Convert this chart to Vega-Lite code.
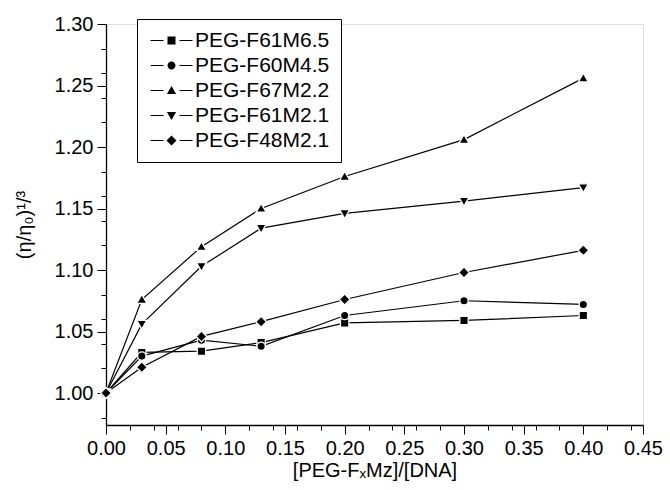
{
  "$schema": "https://vega.github.io/schema/vega-lite/v6.json",
  "width": 537,
  "height": 401,
  "autosize": "none",
  "padding": {"left": 106, "top": 24, "right": 27, "bottom": 65},
  "background": "white",
  "config": {
    "font": "Liberation Sans",
    "axis": {
      "labelFont": "Liberation Sans",
      "titleFont": "Liberation Sans",
      "labelFontSize": 20,
      "titleFontSize": 20,
      "titleFontWeight": "normal",
      "labelColor": "black",
      "titleColor": "black"
    }
  },
  "data": {
    "values": [
      {"series": "PEG-F61M6.5", "x": 0.0, "y": 1.000},
      {"series": "PEG-F61M6.5", "x": 0.03, "y": 1.033},
      {"series": "PEG-F61M6.5", "x": 0.08, "y": 1.034},
      {"series": "PEG-F61M6.5", "x": 0.13, "y": 1.041},
      {"series": "PEG-F61M6.5", "x": 0.2, "y": 1.057},
      {"series": "PEG-F61M6.5", "x": 0.3, "y": 1.059},
      {"series": "PEG-F61M6.5", "x": 0.4, "y": 1.063},
      {"series": "PEG-F60M4.5", "x": 0.0, "y": 1.000},
      {"series": "PEG-F60M4.5", "x": 0.03, "y": 1.030},
      {"series": "PEG-F60M4.5", "x": 0.08, "y": 1.043},
      {"series": "PEG-F60M4.5", "x": 0.13, "y": 1.038},
      {"series": "PEG-F60M4.5", "x": 0.2, "y": 1.063},
      {"series": "PEG-F60M4.5", "x": 0.3, "y": 1.075},
      {"series": "PEG-F60M4.5", "x": 0.4, "y": 1.072},
      {"series": "PEG-F67M2.2", "x": 0.0, "y": 1.000},
      {"series": "PEG-F67M2.2", "x": 0.03, "y": 1.076},
      {"series": "PEG-F67M2.2", "x": 0.08, "y": 1.119},
      {"series": "PEG-F67M2.2", "x": 0.13, "y": 1.150},
      {"series": "PEG-F67M2.2", "x": 0.2, "y": 1.176},
      {"series": "PEG-F67M2.2", "x": 0.3, "y": 1.206},
      {"series": "PEG-F67M2.2", "x": 0.4, "y": 1.256},
      {"series": "PEG-F61M2.1", "x": 0.0, "y": 1.000},
      {"series": "PEG-F61M2.1", "x": 0.03, "y": 1.056},
      {"series": "PEG-F61M2.1", "x": 0.08, "y": 1.103},
      {"series": "PEG-F61M2.1", "x": 0.13, "y": 1.134},
      {"series": "PEG-F61M2.1", "x": 0.2, "y": 1.146},
      {"series": "PEG-F61M2.1", "x": 0.3, "y": 1.156},
      {"series": "PEG-F61M2.1", "x": 0.4, "y": 1.167},
      {"series": "PEG-F48M2.1", "x": 0.0, "y": 1.000},
      {"series": "PEG-F48M2.1", "x": 0.03, "y": 1.021},
      {"series": "PEG-F48M2.1", "x": 0.08, "y": 1.046},
      {"series": "PEG-F48M2.1", "x": 0.13, "y": 1.058},
      {"series": "PEG-F48M2.1", "x": 0.2, "y": 1.076},
      {"series": "PEG-F48M2.1", "x": 0.3, "y": 1.098},
      {"series": "PEG-F48M2.1", "x": 0.4, "y": 1.116}
    ]
  },
  "encoding": {
    "x": {
      "field": "x",
      "type": "quantitative",
      "scale": {"domain": [0, 0.45], "nice": false, "zero": false},
      "axis": {
        "orient": "bottom",
        "title": "[PEG-FₓMz]/[DNA]",
        "tickCount": 10,
        "format": ".2f",
        "labelFlush": false,
        "gridOpacity": 0,
        "domainColor": "black",
        "domainWidth": 1.3,
        "tickColor": "black",
        "tickWidth": 1,
        "tickSize": 9,
        "labelPadding": 4,
        "titlePadding": 2
      }
    },
    "y": {
      "field": "y",
      "type": "quantitative",
      "scale": {"domain": [0.974, 1.30], "nice": false, "zero": false},
      "axis": {
        "orient": "left",
        "title": "(η/η₀)¹/³",
        "tickCount": 7,
        "format": ".2f",
        "gridOpacity": 0,
        "domainColor": "black",
        "domainWidth": 1.3,
        "tickColor": "black",
        "tickWidth": 1,
        "tickSize": 9,
        "labelPadding": 4,
        "titlePadding": 20
      }
    }
  },
  "layer": [
    {
      "mark": {"type": "line", "color": "black", "strokeWidth": 1.2},
      "encoding": {
        "detail": {"field": "series"},
        "x": {
          "field": "x",
          "type": "quantitative",
          "scale": {"domain": [0, 0.45], "nice": false, "zero": false},
          "axis": {
            "orient": "bottom",
            "title": null,
            "labels": false,
            "domain": false,
            "gridOpacity": 0,
            "tickColor": "black",
            "tickWidth": 1,
            "tickCount": 19,
            "tickSize": 5
          }
        },
        "y": {
          "field": "y",
          "type": "quantitative",
          "scale": {"domain": [0.974, 1.30], "nice": false, "zero": false},
          "axis": {
            "orient": "left",
            "title": null,
            "labels": false,
            "domain": false,
            "gridOpacity": 0,
            "tickColor": "black",
            "tickWidth": 1,
            "tickCount": 13,
            "tickSize": 5
          }
        }
      }
    },
    {
      "mark": {"type": "point", "filled": true, "color": "black", "stroke": "white", "strokeWidth": 1.3, "opacity": 1, "size": 70},
      "encoding": {
        "shape": {
          "field": "series",
          "type": "nominal",
          "scale": {
            "domain": ["PEG-F61M6.5", "PEG-F60M4.5", "PEG-F67M2.2", "PEG-F61M2.1", "PEG-F48M2.1"],
            "range": [
              "M-1,-1H1V1H-1Z",
              "M1,0A1,1,0,1,1,-1,0A1,1,0,1,1,1,0Z",
              "M0,-1.2L1.2,0.9H-1.2Z",
              "M0,1.2L1.2,-0.9H-1.2Z",
              "M0,-1.3L1.3,0L0,1.3L-1.3,0Z"
            ]
          },
          "legend": null
        }
      }
    },
    {
      "mark": {"type": "point", "filled": true, "color": "black", "opacity": 0},
      "encoding": {
        "x": {"field": "x", "type": "quantitative", "axis": null},
        "y": {"field": "y", "type": "quantitative", "axis": null},
        "shape": {
          "field": "series",
          "type": "nominal",
          "scale": {
            "domain": ["PEG-F61M6.5", "PEG-F60M4.5", "PEG-F67M2.2", "PEG-F61M2.1", "PEG-F48M2.1"],
            "range": [
              "M-5.25,-0.15H-2V0.15H-5.25ZM2,-0.15H5.25V0.15H2ZM-1,-1H1V1H-1Z",
              "M-5.25,-0.15H-2V0.15H-5.25ZM2,-0.15H5.25V0.15H2ZM1,0A1,1,0,1,1,-1,0A1,1,0,1,1,1,0Z",
              "M-5.25,-0.15H-2V0.15H-5.25ZM2,-0.15H5.25V0.15H2ZM0,-1.1L1.15,0.9H-1.15Z",
              "M-5.25,-0.15H-2V0.15H-5.25ZM2,-0.15H5.25V0.15H2ZM0,1.1L1.15,-0.9H-1.15Z",
              "M-5.25,-0.15H-2V0.15H-5.25ZM2,-0.15H5.25V0.15H2ZM0,-1.25L1.25,0L0,1.25L-1.25,0Z"
            ]
          },
          "legend": {
            "title": null,
            "orient": "none",
            "legendX": 31,
            "legendY": -5,
            "padding": 11,
            "strokeColor": "black",
            "fillColor": "white",
            "symbolSize": 64,
            "symbolOpacity": 1,
            "symbolFillColor": "black",
            "symbolStrokeColor": "black",
            "symbolStrokeWidth": 0,
            "symbolOffset": 13,
            "labelOffset": 13,
            "labelFont": "Liberation Sans",
            "labelFontSize": 21,
            "labelColor": "black",
            "rowPadding": 3,
            "labelLimit": 300
          }
        }
      }
    }
  ],
  "resolve": {"scale": {"shape": "independent"}, "axis": {"x": "independent", "y": "independent"}}
}
